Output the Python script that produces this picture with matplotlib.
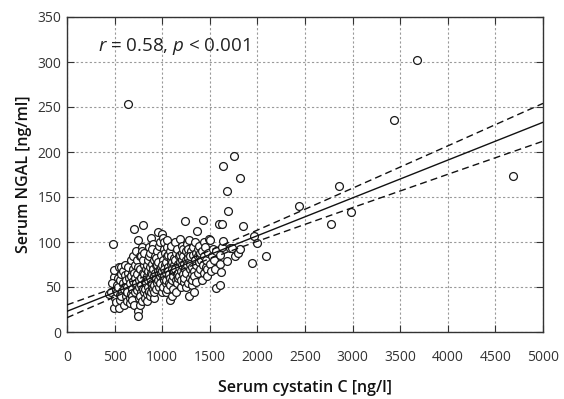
import matplotlib
matplotlib.use("Agg")
import matplotlib.pyplot as plt
import numpy as np

plt.rcParams['font.family'] = ['Open Sans', 'DejaVu Sans']
plt.rcParams['mathtext.fontset'] = 'custom'
plt.rcParams['mathtext.rm'] = 'Open Sans'
plt.rcParams['mathtext.it'] = 'Open Sans:italic'

# Scatter data: serum cystatin C [ng/l] vs serum NGAL [ng/ml]
cystatin = [
    445, 462,
    478, 490, 470,
    505, 492, 512, 498, 520,
    528, 515, 536,
    548, 532, 556, 541, 560,
    566, 553, 578, 571,
    589, 572, 595, 584,
    606, 598, 615, 624, 609,
    628, 617, 635, 642,
    641, 652, 633, 659, 646, 627,
    668, 657, 674, 662, 681,
    686, 673, 695, 679, 690,
    704, 697, 712, 688, 716, 722, 707,
    726, 718, 733, 709, 738, 729,
    746, 742, 748, 753, 737, 760, 751,
    764, 771, 757, 779, 766, 785, 762,
    787, 792, 782, 775, 796, 788, 803, 779,
    798, 811, 805, 817, 794, 823, 808, 826,
    828, 819, 836, 814, 842, 831, 845,
    846, 838, 853, 841, 859, 849, 864,
    866, 855, 872, 861, 878, 869, 883,
    882, 889, 875, 893, 871, 897, 886,
    901, 908, 894, 913, 904, 918, 896, 909,
    924, 917, 931, 921, 936, 914,
    943, 935, 949, 938, 955, 946, 932,
    958, 966, 952, 971, 962, 975, 957,
    984, 977, 991, 982, 972, 997, 986,
    1002, 1010, 995, 1006, 1016, 999, 1012, 1021,
    1024, 1018, 1031, 1027, 1036, 1015, 1040,
    1043, 1038, 1049, 1035, 1053, 1046,
    1062, 1057, 1068, 1055, 1071, 1064,
    1083, 1076, 1089, 1079, 1093, 1086, 1081,
    1102, 1097, 1108, 1094, 1112, 1105, 1099,
    1123, 1118, 1129, 1115, 1133, 1126,
    1142, 1137, 1148, 1135, 1153, 1146,
    1162, 1157, 1168, 1155, 1173, 1166,
    1182, 1176, 1188, 1173, 1193, 1186,
    1203, 1197, 1209, 1194, 1212, 1206,
    1222, 1216, 1229, 1214, 1233,
    1240, 1236, 1248, 1233, 1252, 1245,
    1262, 1256, 1268, 1255, 1271,
    1283, 1276, 1288, 1274, 1292, 1286,
    1302, 1296, 1308, 1294, 1312,
    1322, 1316, 1328, 1314, 1331,
    1342, 1336, 1348, 1334, 1352,
    1366, 1356, 1372, 1353, 1376,
    1383, 1377, 1389, 1394,
    1402, 1396, 1409, 1414,
    1428, 1418, 1424, 1435,
    1442, 1436, 1449, 1455,
    1462, 1468, 1474,
    1492, 1486, 1497,
    1502, 1511, 1519,
    1538, 1545, 1552,
    1565, 1570,
    1597, 1604, 1607, 1612,
    1618, 1624,
    1628,
    1639, 1639,
    1681, 1680,
    1691, 1712, 1733, 1754, 1765, 1796,
    1817, 1817,
    1849,
    1964, 1943,
    1995, 2090, 2437, 2773, 2857, 2983, 3430, 3676, 4685,
]
ngal = [
    42, 45,
    98, 61, 55,
    38, 27, 47, 69, 52,
    44, 33, 60,
    27, 50, 41, 72, 58,
    72, 36, 46, 64,
    55, 40, 30, 68,
    63, 48, 40, 52, 75,
    44, 58, 35, 66,
    253, 60, 50, 38, 72, 45,
    80, 55, 42, 32, 66,
    48, 62, 70, 40, 85,
    114, 57, 44, 36, 75, 52, 66,
    90, 60, 47, 30, 80, 55,
    102, 23, 18, 38, 64, 50, 72,
    30, 70, 58, 45, 85, 62, 40,
    94, 90, 84, 52, 66, 35, 48, 60,
    119, 75, 44, 56, 80, 38, 65, 52,
    70, 48, 60, 88, 42, 55, 74,
    80, 62, 50, 35, 95, 68, 45,
    84, 58, 72, 46, 66, 40, 54,
    104, 76, 60, 50, 88, 64, 44,
    98, 70, 55, 80, 48, 62, 92, 38,
    66, 52, 75, 85, 58, 45,
    74, 60, 90, 48, 68, 55, 82,
    111, 64, 78, 50, 96, 70, 58,
    86, 62, 72, 54, 100, 45, 66,
    109, 105, 68, 80, 58, 75, 50, 92,
    100, 62, 74, 88, 55, 70, 44,
    78, 66, 95, 58, 84, 48,
    72, 86, 62, 102, 54, 68,
    90, 64, 76, 52, 80, 60, 36,
    70, 84, 58, 96, 66, 78, 40,
    82, 62, 74, 48, 100, 68,
    88, 70, 58, 80, 64, 45,
    76, 92, 66, 54, 84, 60,
    103, 72, 86, 62, 50, 78,
    96, 68, 80, 58, 88, 74,
    84, 64, 76, 92, 56,
    123, 70, 90, 60, 80, 50,
    98, 74, 86, 66, 55,
    102, 82, 70, 92, 60, 40,
    90, 76, 64, 84, 52,
    95, 72, 86, 58, 45,
    80, 68, 100, 62, 88,
    112, 74, 92, 56, 84,
    78, 66, 96, 85,
    88, 70, 80, 58,
    124, 90, 75, 100,
    84, 66, 94, 72,
    80, 70, 62,
    103, 88, 76,
    102, 68, 84,
    92, 80, 70,
    90, 49,
    120, 76, 52, 86,
    67, 95,
    120,
    184, 101,
    157, 79,
    134, 93, 93, 196, 84, 88,
    171, 92,
    118,
    107, 77,
    99, 84, 140, 120, 162, 133, 236, 302, 173,
]

# Regression line with 95% confidence band
line_x = [0, 500, 1000, 1500, 2000, 2500, 3000, 3500, 4000, 4500, 5000]
fit_y = [23, 44, 65, 86, 107, 128, 149, 170, 191, 212, 233]
band_half = [7.1, 5.1, 4.0, 4.5, 6.2, 8.4, 10.8, 13.3, 15.8, 18.4, 21.0]

x_ticks = [0, 500, 1000, 1500, 2000, 2500, 3000, 3500, 4000, 4500, 5000]
y_ticks = [0, 50, 100, 150, 200, 250, 300, 350]

fig = plt.figure(figsize=(5.64, 3.99), dpi=100)
ax = fig.add_axes([67/564, 1-332/399, 476/564, 315/399])

ax.set_xlim(0, 5000)
ax.set_ylim(0, 350)
ax.set_xticks(x_ticks)
ax.set_yticks(y_ticks)
ax.grid(True, color='#9a9a9a', linestyle=(0, (2, 2)), linewidth=0.8)
ax.set_axisbelow(True)

ax.scatter(cystatin, ngal, s=32, facecolors='white', edgecolors='#1a1a1a',
           linewidths=0.9, zorder=3)

fx = np.array(line_x)
fy = np.array(fit_y)
bh = np.array(band_half)
ax.plot(fx, fy, color='#111111', lw=1.0, zorder=4)
ax.plot(fx, fy + bh, color='#111111', lw=1.0, ls=(0, (5, 3)), zorder=4)
ax.plot(fx, fy - bh, color='#111111', lw=1.0, ls=(0, (5, 3)), zorder=4)

ax.text(326, 317, r'$\mathit{r}$ = 0.58, $\mathit{p}$ < 0.001', fontsize=13.5,
        color='#222222', va='center', ha='left')

for sp in ax.spines.values():
    sp.set_color('#333333')
    sp.set_linewidth(1.0)
ax.tick_params(direction='in', top=True, right=True, length=5, width=0.8,
               color='#333333', labelsize=10, labelcolor='#333333')
ax.tick_params(axis='x', pad=13)
ax.tick_params(axis='y', pad=4)

ax.set_xlabel('Serum cystatin C [ng/l]', fontsize=11.5, fontweight='semibold',
              color='#111111', labelpad=11)
ax.set_ylabel('Serum NGAL [ng/ml]', fontsize=11.5, fontweight='semibold',
              color='#111111', labelpad=4)

fig.savefig('out.png', dpi=100)
